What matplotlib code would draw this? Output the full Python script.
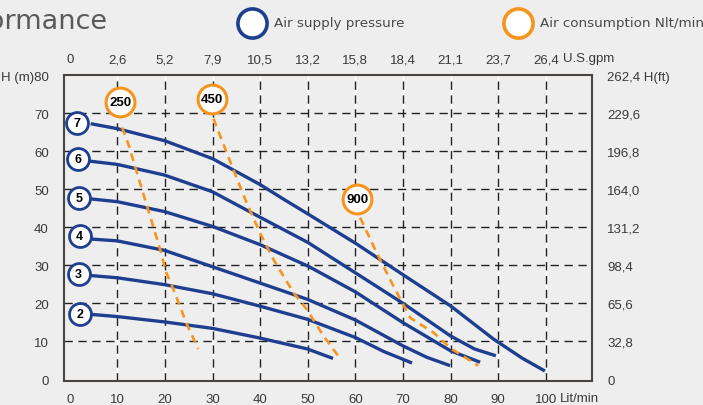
import numpy as np
import matplotlib
matplotlib.use("Agg")
import matplotlib.pyplot as plt
from matplotlib.transforms import blended_transform_factory


# ==================================================
# Data
# ==================================================
flow_lpm = [0, 10, 20, 30, 40, 50, 60, 70, 80, 90, 100]
flow_gpm = ["0", "2,6", "5,2", "7,9", "10,5", "13,2", "15,8", "18,4", "21,1", "23,7", "26,4"]
head_m = [0, 10, 20, 30, 40, 50, 60, 70, 80]
head_ft = ["0", "32,8", "65,6", "98,4", "131,2", "164,0", "196,8", "229,6", "262,4 H(ft)"]

# pump curves per air supply pressure (bar): (flow, head)
pressure_curves = {
    7: ([4.4, 10, 20, 30, 40, 45, 50, 60, 70, 80, 89, 95, 99.8],
        [67.2, 65.9, 62.7, 58.0, 51.2, 47.3, 43.5, 35.8, 27.5, 19.3, 10.6, 5.6, 2.2]),
    6: ([3.9, 10, 19.9, 30, 40, 50, 60, 70, 80, 85, 89.5],
        [57.4, 56.5, 53.7, 49.3, 42.6, 36.0, 28.0, 20.0, 11.4, 8.0, 6.2]),
    5: ([3.9, 10, 19.9, 30, 40, 50, 60, 70, 80, 86.2],
        [47.5, 46.7, 44.1, 40.2, 35.4, 29.8, 23.0, 14.9, 7.5, 4.5]),
    4: ([4.3, 10, 19.9, 30, 40, 50, 60, 70, 75, 79.9],
        [36.9, 36.4, 33.9, 29.6, 25.3, 21.0, 15.6, 8.8, 5.8, 3.6]),
    3: ([4.3, 10, 19.9, 30, 39.8, 49.9, 60, 66, 71.9],
        [27.3, 26.7, 24.9, 22.5, 19.3, 15.8, 11.0, 7.3, 4.3]),
    2: ([4.3, 10, 19.9, 30, 39.8, 49.9, 55.3],
        [17.1, 16.5, 15.1, 13.4, 10.9, 8.0, 5.5]),
}
pressure_label_pos = {7: (1.6, 67.5), 6: (1.8, 57.8), 5: (1.9, 47.7),
                      4: (2.1, 37.6), 3: (1.9, 27.7), 2: (2.1, 17.2)}

# air consumption lines (Nlt/min): (flow, head)
air_curves = {
    250: ([11.0, 12.3, 14.8, 19.0, 20.3, 21.8, 24.6, 27.0],
          [66.2, 61.9, 51.5, 34.1, 28.0, 23.6, 14.5, 8.0]),
    450: ([30.2, 34.4, 37.2, 40.0, 42.8, 47.0, 49.8, 53.3, 56.6],
          [68.5, 55.0, 46.3, 38.4, 31.5, 22.8, 18.4, 11.4, 5.8]),
    900: ([61.0, 64.5, 68.0, 71.5, 76.4, 80.2, 85.8],
          [42.5, 33.2, 24.5, 16.2, 12.3, 8.0, 3.6]),
}
air_label_pos = {250: (10.6, 72.9), 450: (29.9, 73.6), 900: (60.4, 47.5)}

# ==================================================
# Style
# ==================================================
BG = "#eeeeef"
BLUE = "#1e3f8f"
ORANGE = "#f7941d"
TXT = "#3a3a3a"

plt.rcParams["font.family"] = ["Liberation Sans", "DejaVu Sans"]

fig = plt.figure(figsize=(7.03, 4.06), dpi=100, facecolor=BG)
ax = fig.add_axes([64 / 703, 24.5 / 406, 528 / 703, 305.5 / 406])
ax.set_facecolor(BG)
ax.set_xlim(-1.2, 109.7)
ax.set_ylim(-0.3, 80)

# grid
for x in flow_lpm[1:]:
    ax.axvline(x, color="white", lw=1.0, zorder=1)
    ax.axvline(x, color="#222222", lw=1.0, ls=(0, (6, 4)), zorder=1.5)
for y in head_m[1:-1]:
    ax.axhline(y, color="#222222", lw=1.0, ls=(0, (6, 4)), zorder=1.5)

# pump curves
for p, (xs, ys) in pressure_curves.items():
    ax.plot(xs, ys, color=BLUE, lw=2.4, solid_capstyle="butt",
            solid_joinstyle="round", zorder=3)
    lx, ly = pressure_label_pos[p]
    ax.scatter([lx], [ly], s=250, facecolor="white", edgecolor=BLUE,
               linewidth=2.0, zorder=5, clip_on=False)
    ax.text(lx, ly, str(p), ha="center", va="center", fontsize=9,
            fontweight="bold", color="black", zorder=6)

# air consumption
for q, (xs, ys) in air_curves.items():
    ax.plot(xs, ys, color=ORANGE, lw=1.9, ls=(0, (3, 2.2)), zorder=4)
    lx, ly = air_label_pos[q]
    ax.scatter([lx], [ly], s=430, facecolor="white", edgecolor=ORANGE,
               linewidth=2.2, zorder=5)
    ax.text(lx, ly, str(q), ha="center", va="center", fontsize=9.5,
            fontweight="bold", color="black", zorder=6)

# spines
for side in ["left", "right", "top", "bottom"]:
    ax.spines[side].set_color("#4a4540")
    ax.spines[side].set_linewidth(1.5)

# ticks
ax.set_xticks(flow_lpm)
ax.set_xticklabels([str(v) for v in flow_lpm])
ax.set_yticks(head_m)
ax.set_yticklabels([str(v) for v in head_m[:-1]] + ["H (m)80"])
ax.tick_params(axis="both", length=0, labelsize=9.5, labelcolor=TXT)
ax.tick_params(axis="x", pad=9)
ax.tick_params(axis="y", pad=11)

top = ax.secondary_xaxis("top")
top.set_xticks(flow_lpm)
top.set_xticklabels(flow_gpm)
top.tick_params(length=0, labelsize=9.5, labelcolor=TXT, pad=7)
top.spines["top"].set_visible(False)

right = ax.secondary_yaxis("right")
right.set_yticks(head_m)
right.set_yticklabels(head_ft)
right.tick_params(length=0, labelsize=9.5, labelcolor=TXT, pad=11)
right.spines["right"].set_visible(False)

# unit texts next to last tick labels
trans = blended_transform_factory(ax.transData, ax.transAxes)
ax.text(102.9, -0.058, "Lit/min", transform=trans, ha="left", va="center",
        fontsize=9.5, color=TXT)
ax.text(103.6, 1.055, "U.S.gpm", transform=trans, ha="left", va="center",
        fontsize=9.5, color=TXT)

# title and legend
fig.text(108 / 703, 1 - 22 / 406, "Performance", ha="right", va="center",
         fontsize=19.5, color="#5a5a5a", family="DejaVu Sans")
for cx, color, label in [(252, BLUE, "Air supply pressure"),
                         (518, ORANGE, "Air consumption Nlt/min")]:
    fig.lines.append(plt.Line2D([cx / 703], [1 - 24 / 406], marker="o", ms=21,
                                mfc="white", mec=color, mew=2.6,
                                transform=fig.transFigure, figure=fig))
    fig.text((cx + 22) / 703, 1 - 24 / 406, label, ha="left", va="center",
             fontsize=9.7, color="#4a4a4a", family="DejaVu Sans")

fig.savefig("out.png", dpi=100, facecolor=BG)
